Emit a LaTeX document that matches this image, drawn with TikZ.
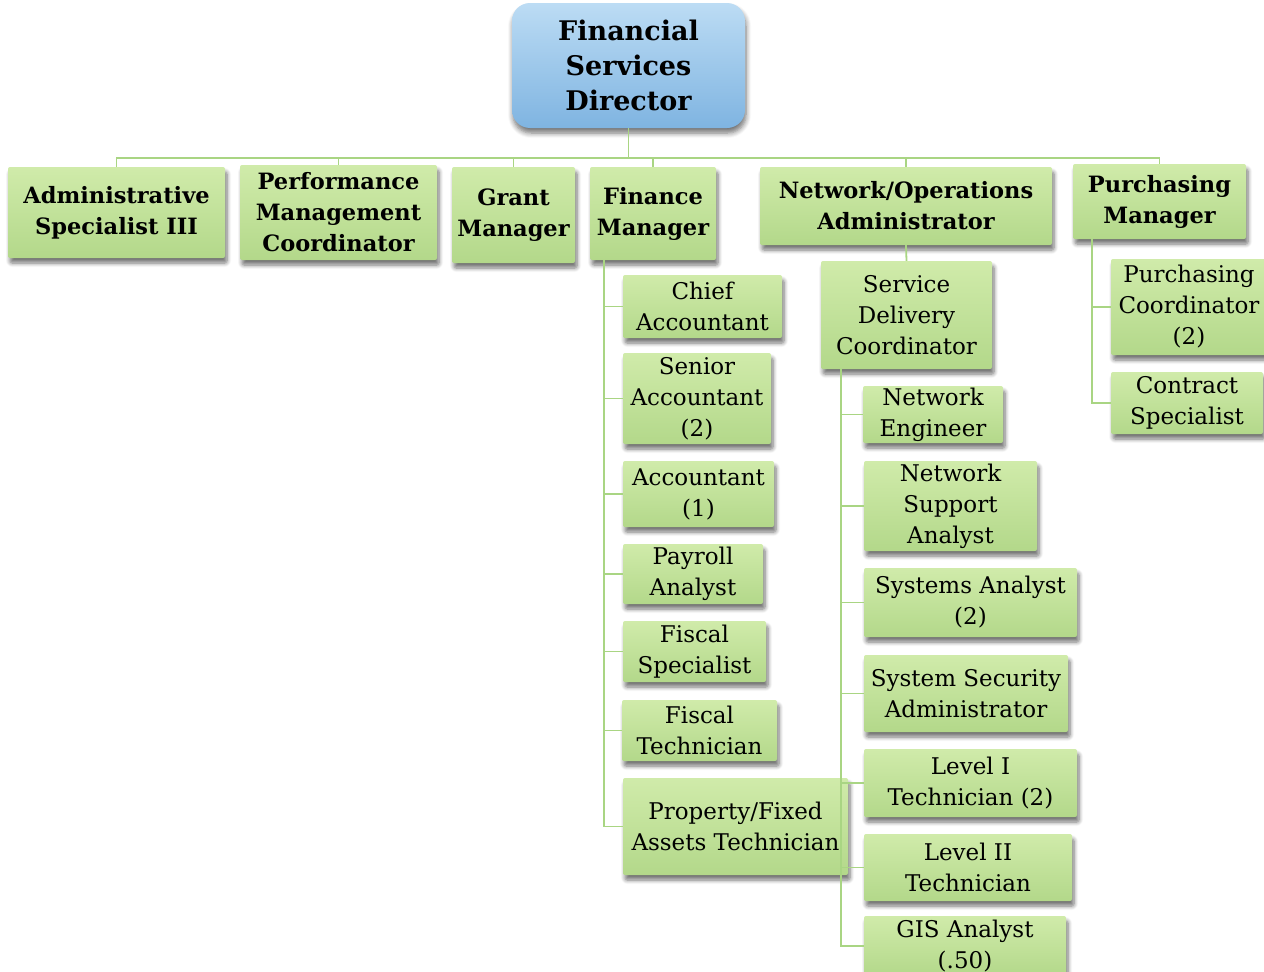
\documentclass[tikz,border=0pt]{standalone}
\usepackage{fontspec}
\setmainfont{DejaVu Serif}
\usepackage{tikz}
\usetikzlibrary{shapes,positioning,calc}
\usetikzlibrary{shadows,shadows.blur}
\definecolor{greentop}{HTML}{D0EBAA}
\definecolor{greenbot}{HTML}{B3D88A}
\definecolor{bluetop}{HTML}{BCDCF4}
\definecolor{bluebot}{HTML}{7FB4E1}
\definecolor{linegreen}{HTML}{A9D583}
\tikzstyle{director} = [rectangle, rounded corners=18pt, inner sep=0pt, align=center,
top color=bluetop, bottom color=bluebot, blur shadow={shadow xshift=1pt, shadow yshift=-5pt, shadow opacity=55, shadow blur steps=6, shadow blur radius=5pt},
font=\bfseries\fontsize{27}{35}\selectfont]
\tikzstyle{manager} = [rectangle, rounded corners=2pt, inner sep=0pt, align=center,
top color=greentop, bottom color=greenbot, blur shadow={shadow xshift=2pt, shadow yshift=-5pt, shadow opacity=55, shadow blur steps=6, shadow blur radius=4pt},
font=\bfseries\fontsize{22.5}{31}\selectfont]
\tikzstyle{staff} = [manager, font=\fontsize{23}{31}\selectfont]
\tikzstyle{link} = [line width=1.8pt, draw=linegreen]
\begin{document}
\begin{tikzpicture}[x=1pt, y=-1pt]
	\useasboundingbox (0,0) rectangle (1264,972);
	\node (d) at (628.5,65.5) [director, minimum width=233pt, minimum height=125pt] {Financial\\Services\\Director};
	\node (a1) at (116.5,212.5) [manager, minimum width=217pt, minimum height=91pt] {Administrative\\Specialist III};
	\node (a2) at (338.5,212.5) [manager, minimum width=197pt, minimum height=95pt] {Performance\\Management\\Coordinator};
	\node (a3) at (513.5,215) [manager, minimum width=123pt, minimum height=96pt] {Grant\\Manager};
	\node (fm) at (653,213.5) [manager, minimum width=126pt, minimum height=93pt] {Finance\\Manager};
	\node (no) at (906,206) [manager, minimum width=292pt, minimum height=78pt] {Network/Operations\\Administrator};
	\node (pm) at (1159.5,201.5) [manager, minimum width=173pt, minimum height=75pt] {Purchasing\\Manager};
	\foreach \n in {a1,a2,a3,fm,no,pm}
		\draw[link] (d.south) -- ++(0,30) -| (\n.north);
	\node (f1) at (702.5,306.5) [staff, minimum width=159pt, minimum height=63pt] {Chief\\Accountant};
	\node (f2) at (697,398.5) [staff, minimum width=148pt, minimum height=91pt] {Senior\\Accountant\\(2)};
	\node (f3) at (698.5,494) [staff, minimum width=151pt, minimum height=66pt] {Accountant\\(1)};
	\node (f4) at (693,574) [staff, minimum width=140pt, minimum height=60pt] {Payroll\\Analyst};
	\node (f5) at (694.5,651.5) [staff, minimum width=143pt, minimum height=61pt] {Fiscal\\Specialist};
	\node (f6) at (699.5,730.5) [staff, minimum width=155pt, minimum height=61pt] {Fiscal\\Technician};
	\node (f7) at (735.5,826.5) [staff, minimum width=225pt, minimum height=97pt] {Property/Fixed\\Assets Technician};
	\foreach \n in {f1,f2,f3,f4,f5,f6,f7}
		\draw[link] ($(fm.south west)+(14,0)$) |- (\n.west);
	\node (sd) at (906.5,315) [staff, minimum width=171pt, minimum height=108pt] {Service\\Delivery\\Coordinator};
	\draw[link] (no.south) -- (sd.north);
	\node (n1) at (933,414.5) [staff, minimum width=140pt, minimum height=57pt] {Network\\Engineer};
	\node (n2) at (950.5,506) [staff, minimum width=173pt, minimum height=90pt] {Network\\Support\\Analyst};
	\node (n3) at (970.5,602.5) [staff, minimum width=213pt, minimum height=69pt] {Systems Analyst\\(2)};
	\node (n4) at (966,693.5) [staff, minimum width=204pt, minimum height=77pt] {System Security\\Administrator};
	\node (n5) at (970.5,783) [staff, minimum width=213pt, minimum height=68pt] {Level I\\Technician (2)};
	\node (n6) at (968,867.5) [staff, minimum width=208pt, minimum height=67pt] {Level II\\Technician};
	\node (n7) at (965,946) [staff, minimum width=202pt, minimum height=60pt] {GIS Analyst\\(.50)};
	\foreach \n in {n1,n2,n3,n4,n5,n6,n7}
		\draw[link] ($(sd.south west)+(20,0)$) |- (\n.west);
	\node (p1) at (1189,307) [staff, minimum width=156pt, minimum height=96pt] {Purchasing\\Coordinator\\(2)};
	\node (p2) at (1187,403) [staff, minimum width=152pt, minimum height=62pt] {Contract\\Specialist};
	\foreach \n in {p1,p2}
		\draw[link] ($(pm.south west)+(19,0)$) |- (\n.west);
\end{tikzpicture}
\end{document}
